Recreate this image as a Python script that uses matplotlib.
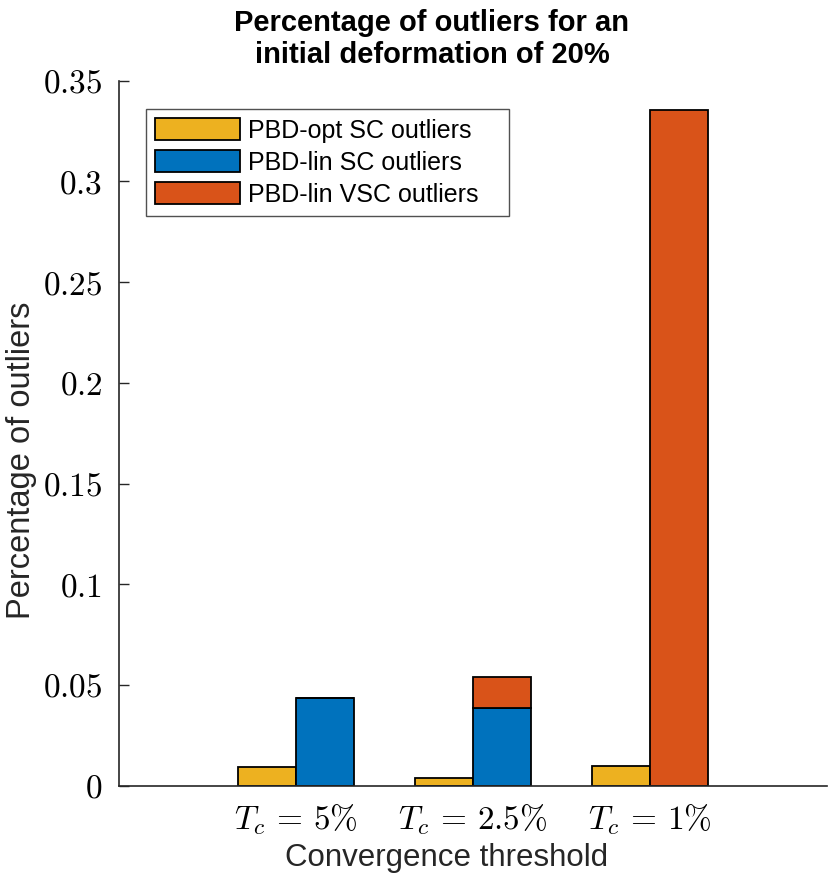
import numpy as np
import matplotlib
matplotlib.use('Agg')
import matplotlib.pyplot as plt

# values
categories = ['$T_c\\,=\\,5\\%$', '$T_c\\,=\\,2.5\\%$', '$T_c\\,=\\,1\\%$']
opt_sc = [0.0091, 0.0038, 0.0096]      # PBD-opt SC outliers
lin_sc = [0.0437, 0.0386, 0.0]         # PBD-lin SC outliers
lin_vsc = [0.0, 0.0152, 0.3353]        # PBD-lin VSC outliers (stacked on lin SC)
y_ticks = [0, 0.05, 0.1, 0.15, 0.2, 0.25, 0.3, 0.35]

plt.rcParams['mathtext.fontset'] = 'cm'
plt.rcParams['font.family'] = ['Liberation Sans', 'DejaVu Sans']

yellow = '#EDB120'
blue = '#0072BD'
orange = '#D95319'
axis_col = '#262626'

fig = plt.figure(figsize=(8.31, 8.84), dpi=100)
ax = fig.add_axes([119 / 831, 1 - 785.7 / 884, 708 / 831, 705 / 884])

x = np.arange(1, len(categories) + 1)
w = 0.325

ax.bar(x - w / 2, opt_sc, w, color=yellow, edgecolor='black', linewidth=1.3,
       label='PBD-opt SC outliers')
ax.bar(x + w / 2, lin_sc, w, color=blue, edgecolor='black', linewidth=1.3,
       label='PBD-lin SC outliers')
ax.bar(x + w / 2, lin_vsc, w, bottom=lin_sc, color=orange, edgecolor='black',
       linewidth=1.3, label='PBD-lin VSC outliers')

ax.set_xlim(0, 4)
ax.set_ylim(0, 0.35)
ax.set_xticks(x)
ax.set_xticklabels(categories, fontsize=24)
ax.set_yticks(y_ticks)
ax.set_yticklabels(['$%g$' % v for v in y_ticks], fontsize=24)

for side in ['top', 'right']:
    ax.spines[side].set_visible(False)
for side in ['left', 'bottom']:
    ax.spines[side].set_color(axis_col)
    ax.spines[side].set_linewidth(1.2)
ax.tick_params(axis='y', direction='in', length=7, width=1.0, color=axis_col, pad=12)
ax.tick_params(axis='x', direction='in', length=0, pad=12)

# axis labels, placed where they sit in the reference
ax.set_xlabel('Convergence threshold', fontsize=22.5, color=axis_col)
ax.xaxis.label.set_va('center')
ax.xaxis.set_label_coords(0.462, -0.1025)
ax.set_ylabel('Percentage of outliers', fontsize=23.5, color=axis_col)
ax.yaxis.label.set_va('center')
ax.yaxis.set_label_coords(-0.138, 0.4615)

fig.text(432 / 831, 1 - 39 / 884,
         'Percentage of outliers for an\ninitial deformation of 20%',
         fontsize=21, fontweight='bold', ha='center', va='center',
         multialignment='center', linespacing=1.2)

# legend box is wider than its text in the reference
leg = ax.legend(loc='upper left', bbox_to_anchor=(0.038, 0.0, 0.513, 0.960),
                mode='expand', fontsize=18,
                frameon=True, fancybox=False, edgecolor=axis_col,
                borderaxespad=0, handlelength=3.4, handleheight=0.95,
                labelspacing=0.3, handletextpad=0.3, borderpad=0.38)
leg.get_frame().set_linewidth(1.0)

fig.savefig('out.png', dpi=100)
